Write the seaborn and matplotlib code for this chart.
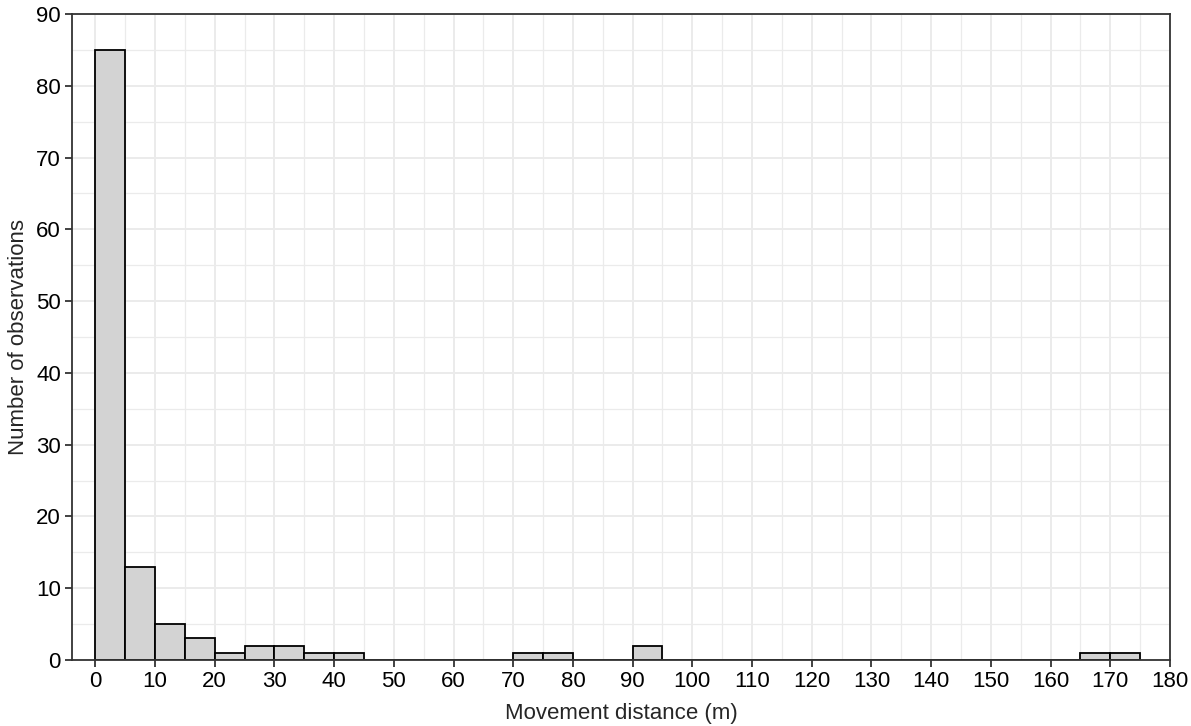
import numpy as np
import pandas as pd
import matplotlib
matplotlib.use("Agg")
import matplotlib.pyplot as plt
from matplotlib.ticker import MultipleLocator
import seaborn as sns

# Histogram data (bin width 5 m)
bin_left = [0, 5, 10, 15, 20, 25, 30, 35, 40, 70, 75, 90, 165, 170]
counts = [85, 13, 5, 3, 1, 2, 2, 1, 1, 1, 1, 2, 1, 1]
bin_width = 5
x_ticks = list(range(0, 181, 10))
y_ticks = list(range(0, 91, 10))

df = pd.DataFrame({"dist": [b + bin_width / 2 for b in bin_left], "n": counts})

sns.set_style("white")
plt.rcParams['font.family'] = ['Liberation Sans', 'DejaVu Sans']

fig = plt.figure(figsize=(11.91, 7.26), dpi=100)
ax = fig.add_axes([72 / 1191, 1 - 660 / 726, (1170 - 72) / 1191, (660 - 14) / 726])

sns.histplot(data=df, x="dist", weights="n", binwidth=bin_width, binrange=(0, 175), ax=ax,
             color="#d3d3d3", edgecolor="black", linewidth=1.3, alpha=1)

ax.set_xlim(-3.9, 180)
ax.set_ylim(0, 90)
ax.set_xticks(x_ticks)
ax.set_yticks(y_ticks)
ax.xaxis.set_minor_locator(MultipleLocator(5))
ax.yaxis.set_minor_locator(MultipleLocator(5))
ax.set_axisbelow(True)
ax.grid(which="major", color="#ebebeb", linewidth=1.4)
ax.grid(which="minor", color="#ebebeb", linewidth=0.9)
for s in ax.spines.values():
    s.set_visible(True)
    s.set_color("#333333")
    s.set_linewidth(1.3)
ax.tick_params(which="major", direction="out", length=5, width=1.3, color="#333333",
               labelsize=16, labelcolor="black", bottom=True, left=True, pad=3)
ax.tick_params(which="minor", length=0)
ax.set_xlabel("Movement distance (m)", fontsize=16, labelpad=8)
ax.set_ylabel("Number of observations", fontsize=16, labelpad=5)

fig.savefig("out.png", dpi=100)
